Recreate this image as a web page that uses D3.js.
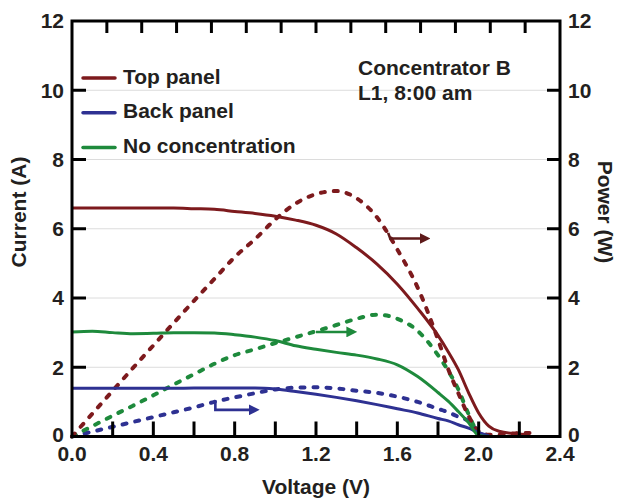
<!DOCTYPE html>
<html>
<head>
<meta charset="utf-8">
<script src="https://cdn.jsdelivr.net/npm/d3@7"></script>
<style>
  html, body { margin: 0; padding: 0; background: #fff; }
  svg { display: block; font-family: "Liberation Sans", Arial, sans-serif; font-weight: bold; }
</style>
</head>
<body>
<svg id="chart" width="618" height="502"></svg>
<script>
// ---- data ----
const voltage      = [0, 0.1, 0.2, 0.3, 0.4, 0.5, 0.6, 0.7, 0.8, 0.9, 1.0, 1.1, 1.2, 1.3, 1.4, 1.5, 1.6, 1.7, 1.8, 1.85, 1.9, 1.95, 2.0, 2.05, 2.1, 2.2, 2.25, 2.32];
const topCurrent   = [6.6, 6.6, 6.6, 6.6, 6.6, 6.6, 6.58, 6.56, 6.5, 6.44, 6.36, 6.25, 6.1, 5.85, 5.45, 4.98, 4.4, 3.7, 2.92, 2.45, 1.93, 1.27, 0.68, 0.3, 0.15, 0.07, 0.04, null];
const topPower     = [0, 0.66, 1.32, 1.98, 2.63, 3.28, 3.92, 4.55, 5.18, 5.7, 6.27, 6.73, 7.0, 7.09, 6.88, 6.33, 5.4, 4.3, 2.8, 1.95, 1.25, 0.6, 0.15, 0.05, 0.05, 0.1, 0.1, null];
const backCurrent  = [1.39, 1.39, 1.39, 1.39, 1.39, 1.39, 1.4, 1.4, 1.4, 1.4, 1.37, 1.3, 1.22, 1.13, 1.03, 0.92, 0.8, 0.68, 0.52, 0.45, 0.34, 0.24, 0.12, 0.02, null, null, null, null];
const backPower    = [0, 0.14, 0.28, 0.42, 0.56, 0.7, 0.84, 1.0, 1.13, 1.25, 1.36, 1.41, 1.42, 1.39, 1.32, 1.26, 1.15, 1.0, 0.8, 0.7, 0.57, 0.45, 0.15, 0.02, null, null, null, null];
const noConCurrent = [3.02, 3.04, 3.0, 2.97, 2.98, 3.0, 3.0, 2.99, 2.94, 2.87, 2.77, 2.62, 2.52, 2.43, 2.35, 2.24, 2.07, 1.73, 1.27, 1.02, 0.72, 0.4, 0.03, 0, 0, 0, 0, 0];
const noConPower   = [0, 0.3, 0.6, 0.89, 1.19, 1.5, 1.8, 2.1, 2.35, 2.52, 2.7, 2.87, 3.04, 3.22, 3.4, 3.52, 3.4, 3.05, 2.35, 1.9, 1.36, 0.65, 0.1, 0, null, null, null, null];

const xTicks = [0, 0.4, 0.8, 1.2, 1.6, 2.0, 2.4];
const xMinorTicks = [0.2, 0.6, 1.0, 1.4, 1.8, 2.2];
const yTicks = [0, 2, 4, 6, 8, 10, 12];
const legendNames = ["Top panel", "Back panel", "No concentration"];
const annotation = ["Concentrator B", "L1, 8:00 am"];

// ---- layout ----
const colors = { top: "#7d1a1d", back: "#2e3192", nocon: "#1e8a3c", arrowTop: "#5e1a1a" };
const L = 72, R = 560, T = 21, B = 436.5;
const svg = d3.select("#chart");

const x = d3.scaleLinear().domain([0, 2.4]).range([L, R]);
const yI = d3.scaleLinear().domain([0, 12]).range([B, T]);
const yP = d3.scaleLinear().domain([0, 12]).range([B, T]);

// gridlines
svg.append("g").selectAll("line").data(yTicks.filter(d => d > 0 && d < 12)).join("line")
  .attr("x1", L).attr("x2", R).attr("y1", d => yI(d)).attr("y2", d => yI(d))
  .attr("stroke", "#dcdcdc").attr("stroke-width", 1);

// curves
function series(vals) {
  return voltage.map((v, i) => [v, vals[i]]).filter(d => d[1] !== null);
}
const line = (yScale) => d3.line().x(d => x(d[0])).y(d => yScale(d[1])).curve(d3.curveMonotoneX);

const curves = [
  { vals: backPower, y: yP, color: colors.back, dash: true },
  { vals: noConPower, y: yP, color: colors.nocon, dash: true },
  { vals: topPower, y: yP, color: colors.top, dash: true },
  { vals: backCurrent, y: yI, color: colors.back, dash: false },
  { vals: noConCurrent, y: yI, color: colors.nocon, dash: false },
  { vals: topCurrent, y: yI, color: colors.top, dash: false },
];
svg.append("g").selectAll("path").data(curves).join("path")
  .attr("d", c => line(c.y)(series(c.vals)))
  .attr("fill", "none")
  .attr("stroke", c => c.color)
  .attr("stroke-width", c => c.dash ? 4 : 3)
  .attr("stroke-linecap", c => c.dash ? "round" : "butt")
  .attr("stroke-dasharray", c => c.dash ? "4,9" : null);

// arrows
const defs = svg.append("defs");
[["top", colors.arrowTop], ["back", colors.back], ["nocon", colors.nocon]].forEach(([k, c]) => {
  defs.append("marker").attr("id", "ah-" + k).attr("viewBox", "0 0 10 10")
    .attr("refX", 2).attr("refY", 5).attr("markerWidth", 4.2).attr("markerHeight", 4.2)
    .attr("markerUnits", "strokeWidth").attr("orient", "auto")
    .append("path").attr("d", "M0,0 L10,5 L0,10 Z").attr("fill", c);
});
const arrows = [
  { key: "top", color: colors.arrowTop, pts: [[1.555, 5.88], [1.565, 5.72], [1.72, 5.72]] },
  { key: "back", color: colors.back, pts: [[0.705, 1.05], [0.705, 0.77], [0.88, 0.77]] },
  { key: "nocon", color: colors.nocon, pts: [[1.2, 3.02], [1.36, 3.02]] },
];
const aLine = d3.line().x(d => x(d[0])).y(d => yP(d[1]));
svg.append("g").selectAll("path").data(arrows).join("path")
  .attr("d", a => aLine(a.pts))
  .attr("fill", "none").attr("stroke", a => a.color).attr("stroke-width", 2.6)
  .attr("marker-end", a => `url(#ah-${a.key})`);

// frame
svg.append("rect").attr("x", L).attr("y", T).attr("width", R - L).attr("height", B - T)
  .attr("fill", "none").attr("stroke", "#000").attr("stroke-width", 3);

// bottom ticks (inward)
const tickG = svg.append("g").attr("stroke", "#000").attr("stroke-width", 3);
tickG.selectAll(".bt").data(xTicks.concat(xMinorTicks).filter(d => d > 0 && d < 2.4)).join("line")
  .attr("x1", d => x(d)).attr("x2", d => x(d)).attr("y1", B).attr("y2", B - 15);
// top ticks (14 divisions)
const topTicks = d3.range(1, 14).map(k => k * 2.4 / 14);
tickG.selectAll(".tt").data(topTicks).join("line")
  .attr("x1", d => x(d)).attr("x2", d => x(d)).attr("y1", T).attr("y2", T + 12);
// left/right ticks
tickG.selectAll(".lt").data(yTicks.filter(d => d > 0 && d < 12)).join("line")
  .attr("x1", L).attr("x2", L + 14).attr("y1", d => yI(d)).attr("y2", d => yI(d));
tickG.selectAll(".rt").data(yTicks.filter(d => d > 0 && d < 12)).join("line")
  .attr("x1", R).attr("x2", R - 13).attr("y1", d => yP(d)).attr("y2", d => yP(d));

// tick labels
const fs = 21;
const yOff = d => d === 0 ? 5 : 7.3;
svg.append("g").selectAll("text").data(yTicks).join("text")
  .attr("x", 64).attr("y", d => yI(d) + yOff(d)).attr("text-anchor", "end")
  .attr("font-size", fs).attr("fill", "#231f20").text(d => d);
svg.append("g").selectAll("text").data(yTicks).join("text")
  .attr("x", 568).attr("y", d => yP(d) + yOff(d)).attr("text-anchor", "start")
  .attr("font-size", fs).attr("fill", "#231f20").text(d => d);
svg.append("g").selectAll("text").data(xTicks).join("text")
  .attr("x", d => x(d)).attr("y", 461).attr("text-anchor", "middle")
  .attr("font-size", fs).attr("fill", "#231f20").text(d => d3.format(".1f")(d));

// axis titles
svg.append("text").attr("x", x(1.2)).attr("y", 494).attr("text-anchor", "middle")
  .attr("font-size", fs).attr("fill", "#231f20").text("Voltage (V)");
svg.append("text").attr("transform", "translate(26,212) rotate(-90)").attr("text-anchor", "middle")
  .attr("font-size", fs).attr("fill", "#231f20").text("Current (A)");
svg.append("text").attr("transform", "translate(598,212) rotate(90)").attr("text-anchor", "middle")
  .attr("font-size", fs).attr("fill", "#231f20").text("Power (W)");

// legend
const legColors = [colors.top, colors.back, colors.nocon];
const lg = svg.append("g").selectAll("g").data(legendNames).join("g")
  .attr("transform", (d, i) => `translate(0, ${83.5 + i * 34.7})`);
lg.append("line").attr("x1", 83).attr("x2", 115).attr("y1", -5.5).attr("y2", -5.5)
  .attr("stroke", (d, i) => legColors[i]).attr("stroke-width", 3.5).attr("stroke-linecap", "round");
lg.append("text").attr("x", 123).attr("y", 0).attr("font-size", fs).attr("fill", "#231f20").text(d => d);

// annotation
svg.append("g").selectAll("text").data(annotation).join("text")
  .attr("x", 358).attr("y", (d, i) => 75 + i * 25).attr("font-size", fs).attr("fill", "#231f20").text(d => d);
</script>
</body>
</html>
